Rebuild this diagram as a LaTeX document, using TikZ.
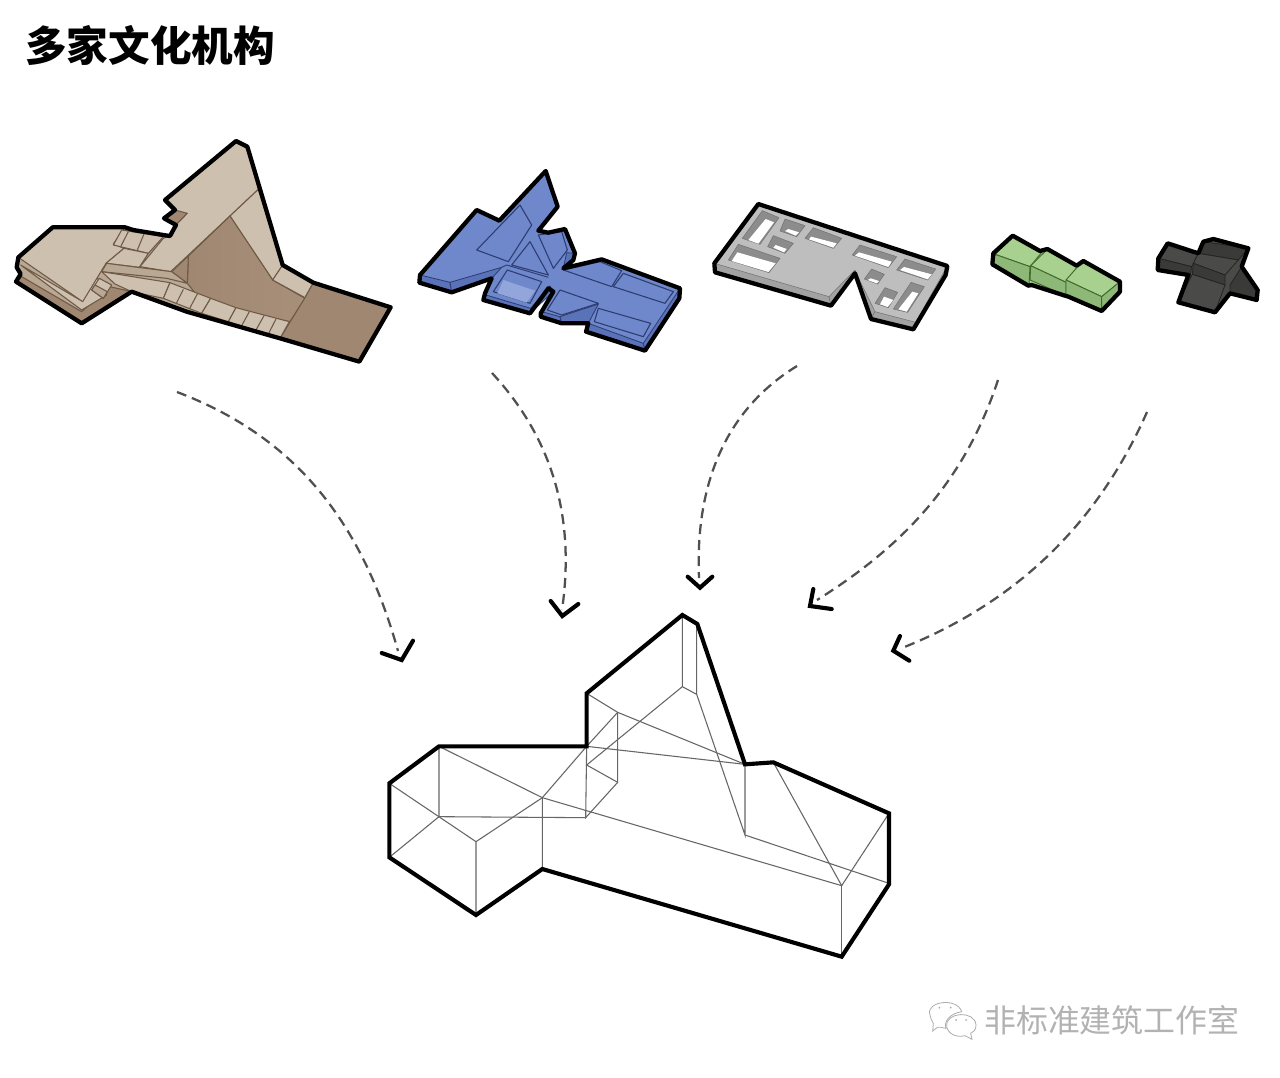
\documentclass[tikz,border=0pt]{standalone}
\usepackage{fontspec}
\newfontfamily\cjk{Noto Sans CJK SC}
\definecolor{woodL}{HTML}{CEC0AE}
\definecolor{woodM}{HTML}{B9A894}
\definecolor{woodD}{HTML}{A08771}
\definecolor{woodE}{HTML}{6E5A46}
\definecolor{blueT}{HTML}{6F88CB}
\definecolor{blueS}{HTML}{5A72B8}
\definecolor{blueL}{HTML}{93A6DC}
\definecolor{blueE}{HTML}{2C3C70}
\definecolor{grayT}{HTML}{BEBEBE}
\definecolor{grayS}{HTML}{A2A2A2}
\definecolor{grayW}{HTML}{8C8C8C}
\definecolor{greenT}{HTML}{A8D08E}
\definecolor{greenS}{HTML}{8DB878}
\definecolor{greenE}{HTML}{3F6B2C}
\definecolor{darkT}{HTML}{4A4A48}
\definecolor{darkS}{HTML}{3A3A38}
\definecolor{darkE}{HTML}{242424}
\definecolor{dashC}{HTML}{505050}
\tikzset{
  zm/.style 2 args={shift={(#1,#2)},x=.25pt,y=-.25pt},
  outl/.style={draw=black,line width=3.2pt,line join=round},
  heavy/.style={draw=black,line width=3.1pt,line join=miter},
  thin line/.style={draw=black!60,line width=.8pt},
  wl/.style={fill=woodL,draw=woodE,line width=.8pt,line join=round},
  wm/.style={fill=woodM,draw=woodE,line width=.8pt,line join=round},
  wd/.style={fill=woodD,draw=woodE,line width=.8pt,line join=round},
  bt/.style={fill=blueT,draw=blueE,line width=.8pt,line join=round},
  bs/.style={fill=blueS,draw=blueE,line width=.6pt,line join=round},
  gs/.style={fill=grayS,draw=black!55,line width=.4pt,line join=round},
  gw/.style={fill=grayW,draw=black!55,line width=.4pt,line join=round},
  gwhite/.style={fill=white},
  gt/.style={fill=greenT,draw=greenE,line width=.7pt,line join=round},
  gside/.style={fill=greenS,draw=greenE,line width=.7pt,line join=round},
  dt/.style={fill=darkT,draw=darkE,line width=.6pt,line join=round},
  ds/.style={fill=darkS,draw=darkE,line width=.6pt,line join=round},
  flow/.style={draw=dashC,line width=1.7pt,dash pattern=on 7.5pt off 4.5pt},
  chev/.style={draw=black,line width=3.1pt,line cap=round,line join=miter},
}
\begin{document}
\begin{tikzpicture}[x=.75pt,y=-.75pt]
\useasboundingbox (0,0) rectangle (1280,1077);
\fill[white] (0,0) rectangle (1280,1077);

\node[anchor=west,inner sep=0pt] (title) at (25,45) {\fontsize{31.2pt}{33pt}\cjk\bfseries 多家文化机构};

% ---------- wood
\begin{scope}[zm={0}{130}]
\path[fill=woodM] (708,33)--(742,50)--(848,405)--(940,458)--(1172,532)--(1078,695)--(840,625)--(560,545)--(395,485)--(245,580)--(48,455)--(62,432)--(50,412)--(55,382)--(158,292)--(375,292)--(400,300)--(490,315)--(510,318)--(528,285)--(492,265)--(525,240)--(495,210)--cycle;
\draw[wd] (48,455)--(245,580)--(395,485)--(330,470)--(245,545)--(65,440)--cycle;
\draw[wl] (62,405)--(245,540)--(320,495)--(290,440)--(240,510)--cycle;
\draw[wl] (55,382)--(158,292)--(375,292)--(340,342)--(372,355)--(318,400)--(248,515)--cycle;
\draw[wl] (340,345)--(365,300)--(490,320)--(445,370)--cycle;
\draw[wm] (385,305)--(362,350) (432,312)--(412,360);
\draw[wl] (372,355)--(445,370)--(418,412)--(318,400)--cycle;
\draw[wd] (530,235)--(562,250)--(528,285)--(497,268)--cycle;
\draw[wl] (708,33)--(742,50)--(775,178)--(512,425)--(420,410)--(490,325)--(510,318)--(528,285)--(562,250)--(525,240)--(495,210)--cycle;
\draw[wl] (775,178)--(848,405)--(818,450)--(690,258)--cycle;
\shade[left color=woodD,right color=woodD!85!woodL,draw=woodE,line width=.8pt] (690,258)--(818,450)--(915,505)--(870,575)--(610,520)--(562,460)--(565,378)--cycle;
\draw[wd] (565,378)--(515,425)--(562,460)--cycle;
\draw[wl] (848,405)--(940,458)--(915,503)--(818,450)--cycle;
\draw[wd] (940,458)--(1172,532)--(1078,695)--(840,625)--(915,503)--cycle;
\draw[wm] (320,400)--(515,425)--(562,460)--(500,445)--(305,425)--cycle;
\draw[wl] (305,425)--(510,458)--(490,505)--(395,485)--(345,462)--cycle;
\draw[wl] (510,458)--(632,505)--(605,550)--(490,505)--cycle;
\draw[wm] (550,478)--(528,522) (592,492)--(568,537);
\draw[wl] (632,505)--(708,533)--(685,575)--(605,550)--cycle;
\draw[wl] (708,533)--(868,575)--(840,625)--(685,575)--cycle;
\draw[wm] (748,545)--(725,587) (792,557)--(768,600) (828,567)--(805,612);
\draw[wl] (298,445)--(335,465)--(310,505)--(275,480)--cycle;
\draw[wm] (285,465)--(322,485)--(310,505)--(275,480)--cycle;
\path[outl] (708,33)--(742,50)--(848,405)--(940,458)--(1172,532)--(1078,695)--(840,625)--(560,545)--(395,485)--(245,580)--(48,455)--(62,432)--(50,412)--(55,382)--(158,292)--(375,292)--(400,300)--(490,315)--(510,318)--(528,285)--(492,265)--(525,240)--(495,210)--cycle;
\end{scope}

% ---------- blue
\begin{scope}[zm={410}{160}]
\path[fill=blueT] (407,33)--(443,140)--(385,212)--(415,218)--(465,207)--(495,280)--(490,300)--(460,325)--(575,298)--(810,385)--(808,415)--(705,572)--(528,515)--(535,490)--(455,490)--(392,470)--(392,460)--(430,395)--(415,385)--(360,460)--(220,420)--(225,400)--(245,355)--(125,397)--(28,368)--(30,345)--(200,150)--(268,182)--cycle;
\draw[bs] (30,345)--(120,367)--(125,397)--(28,368)--cycle;
\draw[bs] (120,367)--(275,322)--(245,355)--(125,397)--cycle;
\draw[bs] (228,405)--(362,445)--(360,460)--(220,420)--cycle;
\draw[bs] (362,445)--(420,378)--(430,395)--(360,460)--cycle;
\draw[bs] (395,455)--(450,470)--(455,490)--(392,470)--cycle;
\draw[bs] (450,470)--(565,432)--(535,490)--(455,490)--cycle;
\draw[bs] (535,490)--(700,550)--(705,572)--(528,515)--cycle;
\draw[bs] (700,550)--(808,388)--(808,415)--(705,572)--cycle;
\draw[bs] (470,278)--(492,280)--(490,300)--(460,325)--cycle;
\draw[bt] (200,270)--(330,135)--(365,195)--(295,305)--cycle;
\draw[bt] (360,245)--(415,345)--(305,315)--cycle;
\draw[bt] (385,225)--(455,215)--(472,270)--(430,325)--cycle;
\draw[bt] (292,330)--(395,365)--(360,430)--(250,395)--cycle;
\path[fill=blueL] (280,360)--(375,392)--(350,428)--(262,400)--cycle;
\draw[bt] (450,390)--(565,430)--(455,465)--(412,450)--cycle;
\draw[bt] (565,445)--(722,490)--(700,530)--(553,485)--cycle;
\draw[bt] (460,330)--(570,305)--(635,332)--(605,380)--cycle;
\draw[bt] (640,340)--(790,395)--(765,430)--(610,380)--cycle;
\draw[blueE,line width=.7pt] (290,315)--(415,352) (275,322)--(290,315);
\path[outl] (407,33)--(443,140)--(385,212)--(415,218)--(465,207)--(495,280)--(490,300)--(460,325)--(575,298)--(810,385)--(808,415)--(705,572)--(528,515)--(535,490)--(455,490)--(392,470)--(392,460)--(430,395)--(415,385)--(360,460)--(220,420)--(225,400)--(245,355)--(125,397)--(28,368)--(30,345)--(200,150)--(268,182)--cycle;
\end{scope}

% ---------- gray
\begin{scope}[zm={705}{195}]
\path[fill=grayT] (160,27)--(727,213)--(722,240)--(625,403)--(498,372)--(450,235)--(378,332)--(30,232)--(28,205)--cycle;
\draw[gs] (28,205)--(372,305)--(378,332)--(30,232)--cycle;
\draw[gs] (372,305)--(450,225)--(450,235)--(378,332)--cycle;
\draw[gs] (450,228)--(510,350)--(498,372)--cycle;
\draw[gs] (510,350)--(632,382)--(625,403)--(498,372)--cycle;
\draw[gs] (632,382)--(727,213)--(722,240)--(625,403)--cycle;
\foreach \o/\w in {
 {(172,47)--(222,68)--(165,148)--(112,130)}/{(182,72)--(207,82)--(160,146)--(130,135)},
 {(100,148)--(225,190)--(192,233)--(70,195)}/{(97,172)--(212,205)--(190,231)--(80,198)},
 {(240,72)--(300,92)--(275,125)--(225,108)}/{(250,102)--(282,112)--(272,122)--(240,108)},
 {(205,122)--(265,145)--(240,175)--(188,155)}/{(212,150)--(245,162)--(237,172)--(205,158)},
 {(325,98)--(410,130)--(385,160)--(300,130)}/{(318,125)--(395,145)--(385,158)--(312,133)},
 {(465,150)--(575,185)--(550,218)--(442,180)}/{(462,172)--(560,200)--(550,216)--(450,182)},
 {(600,192)--(692,222)--(668,255)--(575,225)}/{(597,216)--(680,238)--(668,253)--(585,225)},
 {(500,222)--(538,238)--(518,267)--(478,252)}/{(497,250)--(522,258)--(515,265)--(488,255)},
 {(540,278)--(578,292)--(550,338)--(510,325)}/{(537,305)--(565,315)--(548,336)--(525,328)},
 {(618,262)--(658,275)--(608,352)--(565,342)}/{(622,290)--(640,295)--(605,350)--(580,343)}}{
  \draw[gw] \o--cycle;
  \fill[gwhite] \w--cycle;
}
\path[outl] (160,27)--(727,213)--(722,240)--(625,403)--(498,372)--(450,235)--(378,332)--(30,232)--(28,205)--cycle;
\end{scope}

% ---------- green
\begin{scope}[zm={985}{225}]
\path[fill=greenT] (83,32)--(165,78)--(187,72)--(275,122)--(295,108)--(405,170)--(405,200)--(350,258)--(250,215)--(240,212)--(140,180)--(130,182)--(22,118)--(25,85)--cycle;
\draw[gt] (83,32)--(170,82)--(135,125)--(30,88)--cycle;
\draw[gside] (30,88)--(135,125)--(132,180)--(25,118)--cycle;
\draw[gt] (185,75)--(278,125)--(243,172)--(137,122)--cycle;
\draw[gside] (137,122)--(243,172)--(243,212)--(135,165)--cycle;
\draw[gt] (295,108)--(405,170)--(350,215)--(243,165)--(278,125)--cycle;
\draw[gside] (243,165)--(350,215)--(350,258)--(243,210)--cycle;
\draw[gside] (350,215)--(405,170)--(405,200)--(350,258)--cycle;
\path[outl] (83,32)--(165,78)--(187,72)--(275,122)--(295,108)--(405,170)--(405,200)--(350,258)--(250,215)--(240,212)--(140,180)--(130,182)--(22,118)--(25,85)--cycle;
\end{scope}

% ---------- dark
\begin{scope}[zm={985}{225}]
\path[fill=darkT] (548,55)--(640,85)--(655,50)--(685,42)--(790,70)--(770,125)--(818,195)--(815,225)--(735,205)--(690,262)--(580,232)--(610,150)--(518,135)--(520,100)--cycle;
\draw[ds] (770,125)--(818,195)--(815,225)--(735,205)--(735,180)--cycle;
\draw[ds] (655,50)--(790,70)--(760,105)--(640,85)--cycle;
\draw[dt] (548,55)--(640,88)--(620,125)--(520,100)--cycle;
\draw[ds] (520,100)--(620,125)--(615,155)--(518,135)--cycle;
\draw[dt] (640,85)--(760,105)--(720,150)--(625,115)--cycle;
\draw[ds] (625,115)--(720,150)--(720,180)--(622,148)--cycle;
\draw[dt] (622,148)--(720,180)--(690,262)--(580,232)--cycle;
\path[outl] (548,55)--(640,85)--(655,50)--(685,42)--(790,70)--(770,125)--(818,195)--(815,225)--(735,205)--(690,262)--(580,232)--(610,150)--(518,135)--(520,100)--cycle;
\end{scope}

% ---------- arrows
\coordinate (a1s) at (177,392); \coordinate (a1e) at (398,651);
\coordinate (a2s) at (492,373); \coordinate (a2e) at (562,610);
\coordinate (a3s) at (797,366); \coordinate (a3e) at (699,578);
\coordinate (a4s) at (998,380); \coordinate (a4e) at (817,600);
\coordinate (a5s) at (1147,412); \coordinate (a5e) at (902,648);
\draw[flow] (a1s) .. controls (290,435) and (360,515) .. (a1e);
\draw[flow] (a2s) .. controls (540,425) and (578,500) .. (a2e);
\draw[flow] (a3s) .. controls (725,410) and (695,485) .. (a3e);
\draw[flow] (a4s) .. controls (965,480) and (905,545) .. (a4e);
\draw[flow] (a5s) .. controls (1095,530) and (1010,605) .. (a5e);
\draw[chev] (381.7,653)--(401.7,660)--(413,640.7);
\draw[chev] (550.7,601)--(562.3,616)--(578.3,604);
\draw[chev] (687.7,576.7)--(700,587.7)--(712.3,576.7);
\draw[chev] (813.3,589)--(810,606)--(831.7,609);
\draw[chev] (900,636)--(893.3,650.7)--(909.3,660.7);

% ---------- wireframe
\begin{scope}[zm={380}{605}]
\draw[thin line] (907,30)--(907,245)--(950,268)--(950,57);
\draw[thin line] (950,268)--(1095,690)--(1095,478);
\draw[thin line] (1095,690)--(1527,835);
\draw[thin line] (1180,472)--(1385,842)--(1527,625);
\draw[thin line] (1385,842)--(1385,1055);
\draw[thin line] (1385,842)--(487,578)--(487,792);
\draw[thin line] (177,424)--(487,578);
\draw[thin line] (288,710)--(487,578)--(620,424)--(713,322);
\draw[thin line] (620,265)--(713,322)--(1095,478);
\draw[thin line] (620,424)--(1095,478);
\draw[thin line] (907,245)--(620,480)--(713,532)--(713,322);
\draw[thin line] (620,424)--(617,638)--(713,532);
\draw[thin line] (617,638)--(177,635)--(177,424);
\draw[thin line] (28,535)--(288,710)--(288,930);
\draw[thin line] (177,635)--(28,757);
\path[heavy] (907,30)--(952,57)--(1095,478)--(1180,472)--(1527,625)--(1527,838)--(1385,1055)--(487,792)--(288,930)--(28,757)--(28,535)--(177,424)--(620,424)--(620,265)--cycle;
\end{scope}

% ---------- watermark
\node[anchor=west,inner sep=0pt,text=black!30] (mark) at (984,1020) {\fontsize{23.9pt}{25pt}\cjk 非标准建筑工作室};
\begin{scope}[zm={920}{995},draw=black!32,line width=.6pt,fill=white]
\draw (30,60) .. controls (15,20) and (110,5) .. (125,50) .. controls (90,55) and (70,80) .. (78,100) .. controls (65,98) and (60,95) .. (52,97) -- (38,108) -- (40,85) .. controls (35,78) and (32,70) .. (30,60) -- cycle;
\draw[fill=white] (80,95) .. controls (75,50) and (165,45) .. (168,90) .. controls (168,105) and (160,112) .. (152,115) -- (156,133) -- (135,122) .. controls (110,128) and (85,118) .. (80,95) -- cycle;
\fill[black!32] (58,38) circle (3) (92,38) circle (3) (108,75) circle (3) (138,75) circle (3);
\end{scope}
\end{tikzpicture}
\end{document}
